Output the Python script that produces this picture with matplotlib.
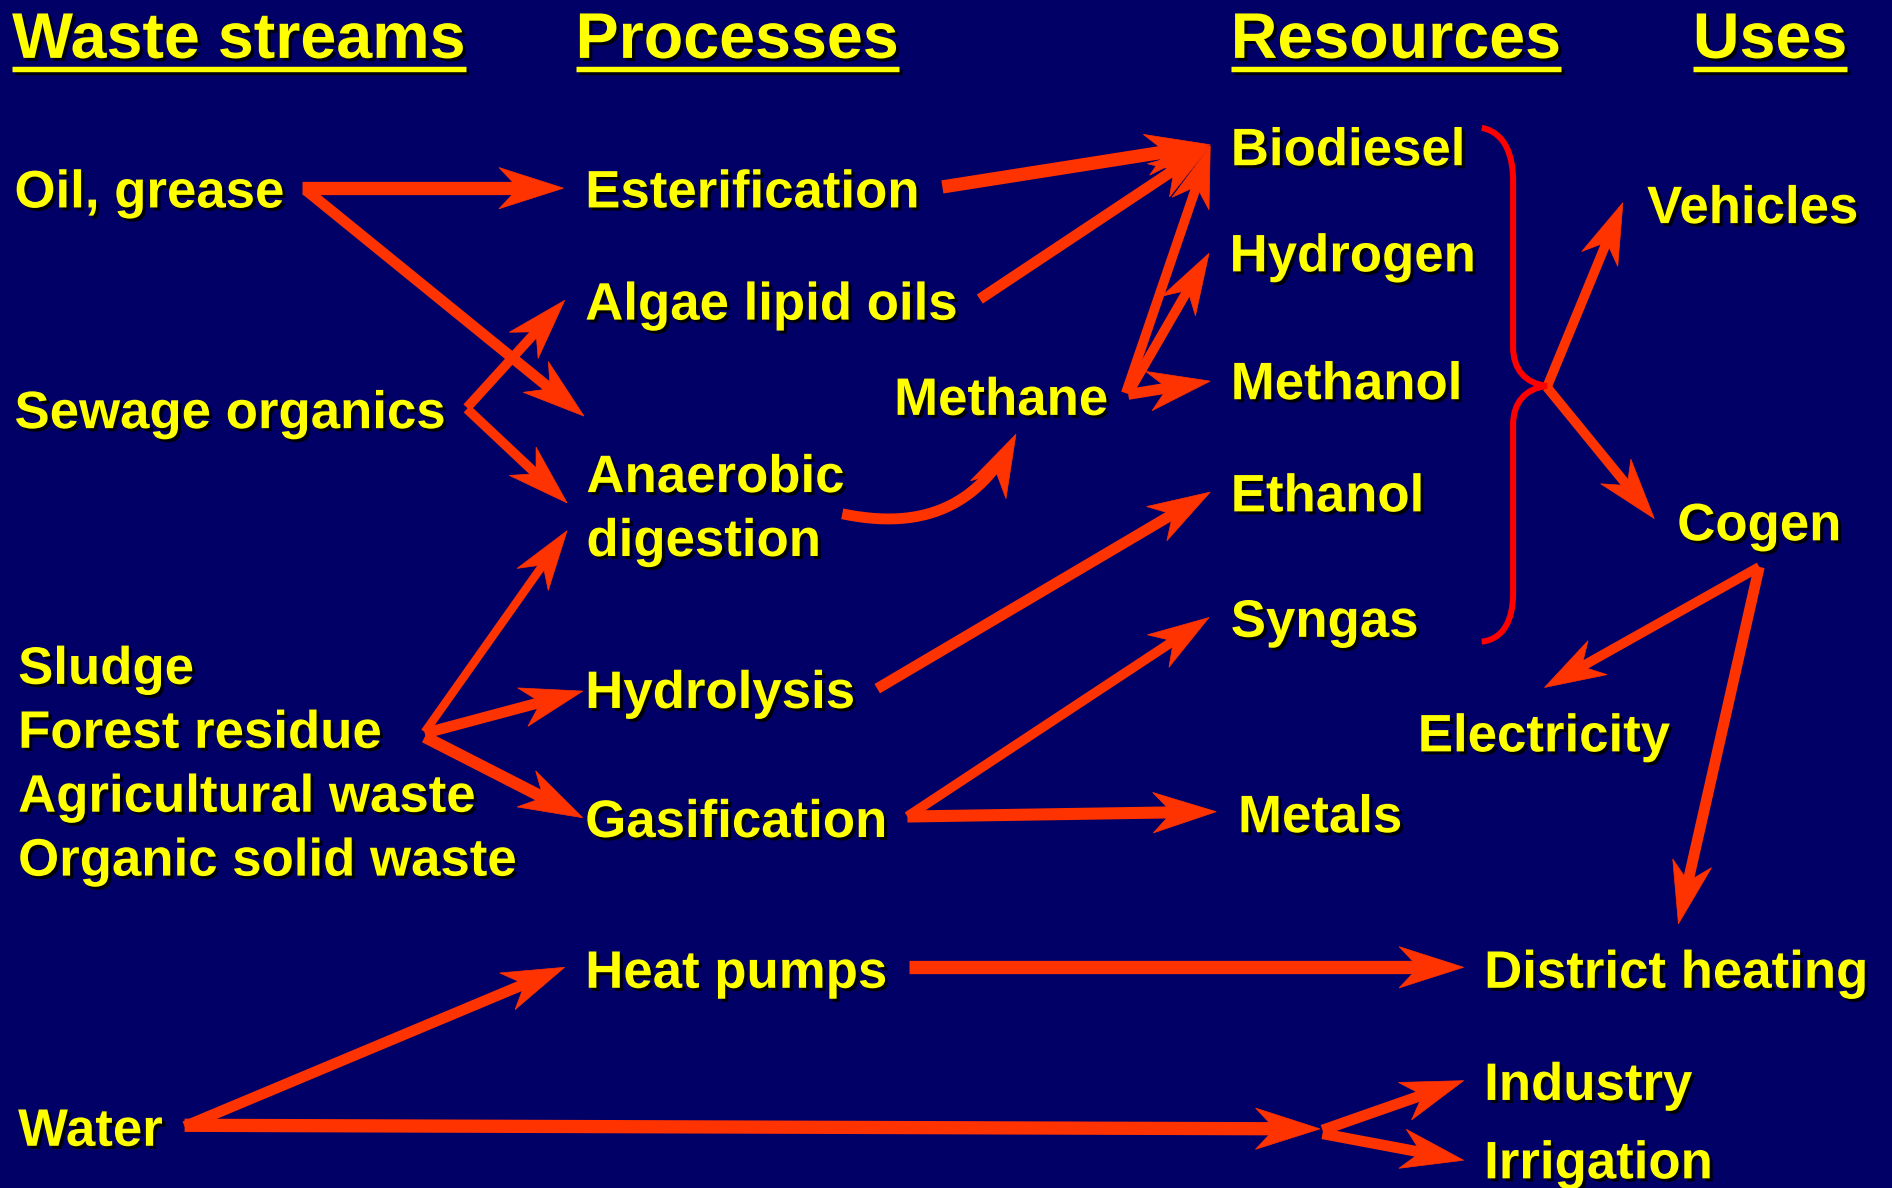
import numpy as np
import matplotlib
matplotlib.use("Agg")
import matplotlib.pyplot as plt
import matplotlib.patheffects as pe
from matplotlib.patches import Polygon, PathPatch
from matplotlib.path import Path
from matplotlib.lines import Line2D

# ---------------- data ----------------
headers = ["Waste streams", "Processes", "Resources", "Uses"]
waste_streams = ["Oil, grease", "Sewage organics", "Sludge", "Forest residue",
                 "Agricultural waste", "Organic solid waste", "Water"]
processes = ["Esterification", "Algae lipid oils", "Anaerobic\ndigestion",
             "Hydrolysis", "Gasification", "Heat pumps"]
intermediates = ["Methane"]
resources = ["Biodiesel", "Hydrogen", "Methanol", "Ethanol", "Syngas", "Metals"]
uses = ["Vehicles", "Cogen", "Electricity", "District heating", "Industry", "Irrigation"]

# flows: (source, target)
flows = [
    ("Oil, grease", "Esterification"),
    ("Oil, grease", "Anaerobic\ndigestion"),
    ("Sewage organics", "Algae lipid oils"),
    ("Sewage organics", "Anaerobic\ndigestion"),
    ("Esterification", "Biodiesel"),
    ("Algae lipid oils", "Biodiesel"),
    ("Methane", "Biodiesel"),
    ("Methane", "Hydrogen"),
    ("Methane", "Methanol"),
    ("Hydrolysis", "Ethanol"),
    ("Gasification", "Syngas"),
    ("Gasification", "Metals"),
    ("Sludge", "Anaerobic\ndigestion"),
    ("Sludge", "Hydrolysis"),
    ("Sludge", "Gasification"),
    ("Heat pumps", "District heating"),
    ("Water", "Heat pumps"),
    ("Water", "Reuse"),
    ("Reuse", "Industry"),
    ("Reuse", "Irrigation"),
    ("Resources", "Vehicles"),
    ("Resources", "Cogen"),
    ("Cogen", "Electricity"),
    ("Cogen", "District heating"),
]
curved_flows = [("Anaerobic\ndigestion", "Methane")]

# ---------------- layout (reference pixel frame 1568 x 985) ----------------
W, H = 1568, 985
header_pos = {"Waste streams": (10, 48), "Processes": (477, 48),
              "Resources": (1020, 48), "Uses": (1403, 48)}
label_pos = {
    "Oil, grease": (12, 172), "Sewage organics": (12, 355),
    "Sludge": (15, 567), "Forest residue": (15, 620),
    "Agricultural waste": (15, 673), "Organic solid waste": (15, 726),
    "Water": (15, 950),
    "Esterification": (485, 172), "Algae lipid oils": (485, 265),
    "Anaerobic\ndigestion": (486, 408), "Hydrolysis": (485, 587),
    "Gasification": (485, 694), "Heat pumps": (485, 819),
    "Methane": (741, 344),
    "Biodiesel": (1020, 137), "Hydrogen": (1019, 225), "Methanol": (1020, 331),
    "Ethanol": (1020, 424), "Syngas": (1020, 528), "Metals": (1026, 690),
    "Vehicles": (1365, 185), "Cogen": (1390, 448), "Electricity": (1175, 623),
    "District heating": (1230, 819), "Industry": (1230, 912), "Irrigation": (1230, 977),
}
# arrow endpoints (start, tip) and shaft width in reference px
arrow_geom = {
    ("Oil, grease", "Esterification"): ((250, 156), (467, 156), 11),
    ("Oil, grease", "Anaerobic\ndigestion"): ((254, 158), (484, 345), 9),
    ("Sewage organics", "Algae lipid oils"): ((387, 338), (468, 249), 8),
    ("Sewage organics", "Anaerobic\ndigestion"): ((387, 339), (470, 417), 8),
    ("Esterification", "Biodiesel"): ((781, 155), (1003, 120), 11),
    ("Algae lipid oils", "Biodiesel"): ((812, 248), (1003, 121), 9),
    ("Methane", "Biodiesel"): ((933, 326), (1003, 121), 8),
    ("Methane", "Hydrogen"): ((935, 326), (1002, 210), 8),
    ("Methane", "Methanol"): ((935, 327), (1003, 316), 9),
    ("Hydrolysis", "Ethanol"): ((727, 571), (1003, 408), 9),
    ("Gasification", "Syngas"): ((752, 677), (1002, 512), 8),
    ("Gasification", "Metals"): ((752, 677), (1008, 673), 10),
    ("Sludge", "Anaerobic\ndigestion"): ((352, 607), (470, 440), 7),
    ("Sludge", "Hydrolysis"): ((352, 608), (483, 573), 9),
    ("Sludge", "Gasification"): ((352, 611), (483, 678), 10),
    ("Heat pumps", "District heating"): ((753, 802), (1213, 802), 11),
    ("Water", "Heat pumps"): ((153, 934), (468, 802), 9),
    ("Water", "Reuse"): ((153, 933), (1094, 936), 11),
    ("Reuse", "Industry"): ((1096, 937), (1213, 896), 9),
    ("Reuse", "Irrigation"): ((1096, 940), (1213, 962), 9),
    ("Resources", "Vehicles"): ((1282, 321), (1345, 168), 8),
    ("Resources", "Cogen"): ((1282, 321), (1371, 430), 8),
    ("Cogen", "Electricity"): ((1458, 470), (1280, 570), 8),
    ("Cogen", "District heating"): ((1458, 470), (1391, 766), 9),
}
curve_geom = {("Anaerobic\ndigestion", "Methane"):
              [(698, 426), (765, 440), (812, 420), (842, 360)]}

BG = "#000066"
YELLOW = "#FFFF00"
ARROW = "#FF3300"
BRACE = "#FF0000"
FONT = ["Liberation Sans", "DejaVu Sans"]

fig = plt.figure(figsize=(18.92, 11.88), dpi=100, facecolor=BG)
ax = fig.add_axes([0, 0, 1, 1])
ax.set_facecolor(BG)
ax.set_xlim(0, W)
ax.set_ylim(H, 0)
ax.axis("off")

PX2PT = (1892 / W) * 72 / 100  # reference px -> points
shadow = [pe.SimplePatchShadow(offset=(2.2, -2.2), shadow_rgbFace="#000000", alpha=0.9), pe.Normal()]

HEAD_L = 50
HEAD_HW = 16


def draw_head(tip, u, scale=1.0):
    L = HEAD_L * scale
    hw = HEAD_HW * scale
    n = np.array([-u[1], u[0]])
    back = tip - L * u
    notch = tip - 0.7 * L * u
    poly = Polygon([tip, back + hw * n, notch, back - hw * n], closed=True,
                   facecolor=ARROW, edgecolor=ARROW, lw=0.5, zorder=3)
    ax.add_patch(poly)
    return notch


def straight_arrow(p0, p1, w):
    p0 = np.array(p0, float)
    p1 = np.array(p1, float)
    u = (p1 - p0) / np.linalg.norm(p1 - p0)
    scale = 0.85 + 0.02 * w
    end = p1 - 0.66 * HEAD_L * scale * u
    ax.add_line(Line2D([p0[0], end[0]], [p0[1], end[1]], color=ARROW,
                       lw=w * PX2PT, solid_capstyle="butt", zorder=2))
    draw_head(p1, u, scale)


def curved_arrow(pts, w):
    P = np.array(pts, float)
    t = np.linspace(0, 1, 400)[:, None]
    curve = ((1 - t) ** 3 * P[0] + 3 * (1 - t) ** 2 * t * P[1]
             + 3 * (1 - t) * t ** 2 * P[2] + t ** 3 * P[3])
    tip = P[3]
    scale = 0.85 + 0.02 * w
    d = np.linalg.norm(curve - tip, axis=1)
    keep = curve[d >= 0.66 * HEAD_L * scale]
    ax.add_line(Line2D(keep[:, 0], keep[:, 1], color=ARROW, lw=w * PX2PT,
                       solid_capstyle="butt", zorder=2))
    u = (tip - P[2]) / np.linalg.norm(tip - P[2])
    draw_head(tip, u, scale)


for f in flows:
    p0, p1, w = arrow_geom[f]
    straight_arrow(p0, p1, w)
for f in curved_flows:
    curved_arrow(curve_geom[f], 9)

# curly brace grouping the resources
verts = [(1228, 106), (1248, 110), (1254, 130), (1254, 150),
         (1254, 288),
         (1254, 306), (1264, 318), (1282, 320),
         (1264, 322), (1254, 334), (1254, 352),
         (1254, 492),
         (1254, 514), (1246, 530), (1228, 532)]
codes = [Path.MOVETO, Path.CURVE4, Path.CURVE4, Path.CURVE4,
         Path.LINETO,
         Path.CURVE4, Path.CURVE4, Path.CURVE4,
         Path.CURVE4, Path.CURVE4, Path.CURVE4,
         Path.LINETO,
         Path.CURVE4, Path.CURVE4, Path.CURVE4]
ax.add_patch(PathPatch(Path(verts, codes), facecolor="none", edgecolor=BRACE,
                       lw=5 * PX2PT, capstyle="butt", zorder=2))

# headers with underline
fig.canvas.draw()
renderer = fig.canvas.get_renderer()
for h in headers:
    x, y = header_pos[h]
    t = ax.text(x, y, h, fontsize=46.5, fontweight="bold", family=FONT, color=YELLOW,
                ha="left", va="baseline", zorder=5, path_effects=shadow)
    bb = t.get_window_extent(renderer=renderer)
    inv = ax.transData.inverted()
    (x0, _), (x1, _) = inv.transform([(bb.x0, bb.y0), (bb.x1, bb.y0)])
    ax.add_line(Line2D([x0, x1], [y + 9, y + 9], color=YELLOW, lw=4.5 * PX2PT,
                       solid_capstyle="butt", zorder=5,
                       path_effects=[pe.SimpleLineShadow(offset=(2.2, -2.2), shadow_color="#000000", alpha=0.9), pe.Normal()]))

# node labels
for name in waste_streams + processes + intermediates + resources + uses:
    x, y = label_pos[name]
    lines = name.split("\n")
    for i, ln in enumerate(lines):
        ax.text(x, y + i * 53, ln, fontsize=38, fontweight="bold", family=FONT,
                color=YELLOW, ha="left", va="baseline", zorder=5, path_effects=shadow)

fig.savefig("out.png", dpi=100, facecolor=BG)
